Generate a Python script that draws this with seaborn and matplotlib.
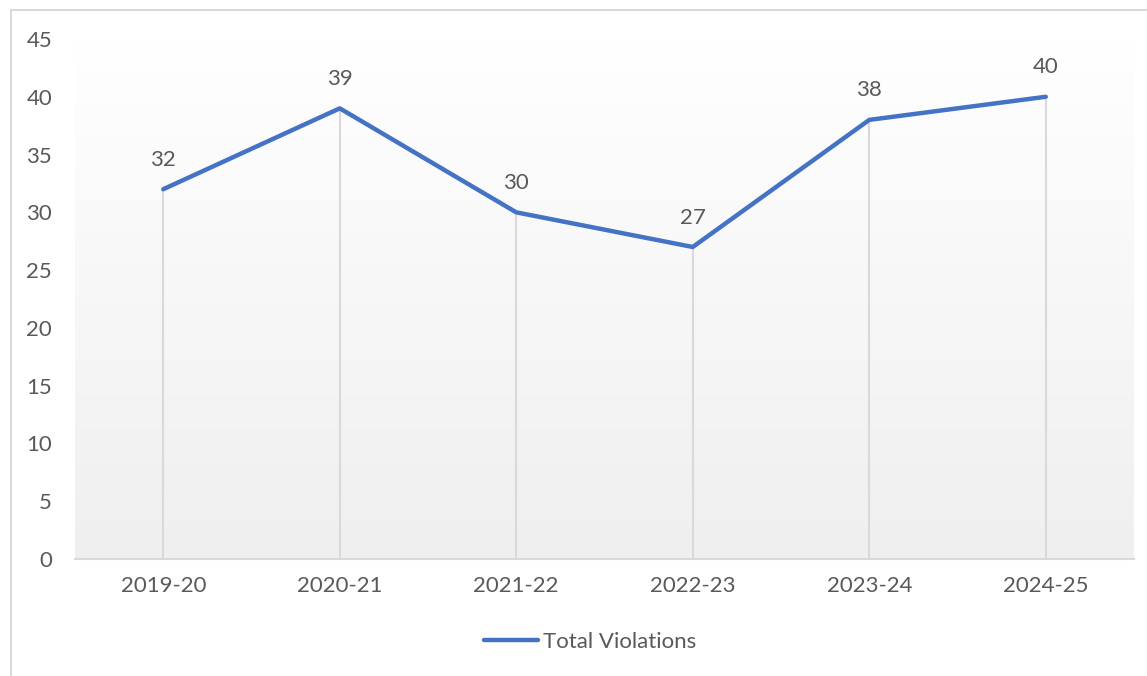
import numpy as np
import pandas as pd
import matplotlib
matplotlib.use("Agg")
import matplotlib.pyplot as plt
import seaborn as sns
from matplotlib.patches import Rectangle
from matplotlib.colors import LinearSegmentedColormap

years = ["2019-20", "2020-21", "2021-22", "2022-23", "2023-24", "2024-25"]
violations = [32, 39, 30, 27, 38, 40]
series_name = "Total Violations"
y_ticks = [0, 5, 10, 15, 20, 25, 30, 35, 40, 45]

df = pd.DataFrame({"Year": years, "Violations": violations})

sns.set_theme(style="white")
plt.rcParams["font.family"] = ["Lato", "DejaVu Sans"]

text_color = "#595959"
line_color = "#4472C4"
grid_color = "#D9D9D9"
fs = 16

fig = plt.figure(figsize=(11.47, 6.76), dpi=100)
ax = fig.add_axes([75 / 1147, 1 - 559 / 676, (1134 - 75) / 1147, (559 - 39) / 676])

# figure border
fig.patches.append(Rectangle((11 / 1147, -0.01), 1.2, 1 - 10 / 676 + 0.01,
                             transform=fig.transFigure, fill=False,
                             edgecolor="#D9D9D9", linewidth=1.5, zorder=0))

x = np.arange(len(years))
ax.set_xlim(-0.5, len(years) - 0.5)
ax.set_ylim(0, 45)

# gradient background
cmap = LinearSegmentedColormap.from_list("bg", ["#EFEFEF", "#FFFFFF"])
grad = np.linspace(0, 1, 256).reshape(-1, 1)
ax.imshow(grad, extent=(-0.5, len(years) - 0.5, 0, 45), origin="lower",
          cmap=cmap, aspect="auto", zorder=0)

# drop lines
ax.vlines(x, 0, violations, colors=grid_color, linewidth=1.5, zorder=1)

sns.lineplot(data=df, x="Year", y="Violations", ax=ax, color=line_color,
             linewidth=3.2, sort=False, label=series_name, zorder=3,
             solid_capstyle="round")

for xi, v in zip(x, violations):
    ax.annotate(str(v), (xi, v), xytext=(0, 14), textcoords="offset points",
                ha="center", va="bottom", fontsize=fs, color=text_color)

for s in ["top", "right", "left"]:
    ax.spines[s].set_visible(False)
ax.spines["bottom"].set_color(grid_color)
ax.spines["bottom"].set_linewidth(1.5)

ax.set_xticks(x)
ax.set_xticklabels(years)
ax.set_yticks(y_ticks)
ax.tick_params(axis="x", length=0, pad=12, labelsize=fs, labelcolor=text_color)
ax.tick_params(axis="y", length=0, pad=16.5, labelsize=fs, labelcolor=text_color)
ax.set_xlabel("")
ax.set_ylabel("")
ax.grid(False)

ax.legend_.remove()
handles, labels = ax.get_legend_handles_labels()
fig.legend(handles, labels, loc="center", bbox_to_anchor=(590 / 1147, 1 - 642 / 676),
           frameon=False, fontsize=fs, labelcolor=text_color,
           handlelength=2.45, handletextpad=0.2)

fig.savefig("out.png", dpi=100)
